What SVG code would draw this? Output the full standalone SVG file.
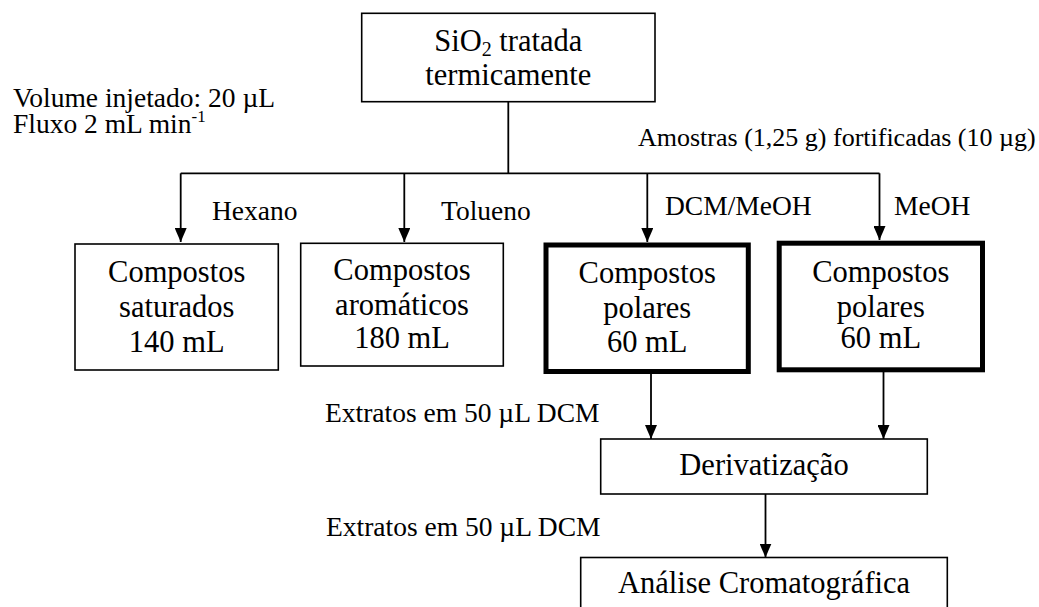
<svg xmlns="http://www.w3.org/2000/svg" width="1039" height="607" viewBox="0 0 1039 607">
  <style>
    text { font-family: "Liberation Serif", "Times New Roman", serif; fill: #000; }
    .box { fill: #fff; stroke: #000; stroke-width: 1.6; }
    .thick { fill: #fff; stroke: #000; stroke-width: 5; }
    .node { font-size: 30.5px; text-anchor: middle; }
    .note { font-size: 27.5px; }
    .line { fill: none; stroke: #000; stroke-width: 1.8; }
  </style>
  <defs>
    <!-- filled triangular head, tip at the end of the line -->
    <marker id="arrow" viewBox="0 0 14 12" refX="14" refY="6" markerWidth="14" markerHeight="12" markerUnits="userSpaceOnUse" orient="auto">
      <path d="M0,0 L14,6 L0,12 Z" fill="#000"/>
    </marker>
  </defs>

  <!-- free-standing annotations -->
  <g id="annotations">
    <text class="note" x="13" y="107">Volume injetado: 20 µL</text>
    <text class="note" x="13" y="133">Fluxo 2 mL min<tspan font-size="17" dy="-11">-1</tspan></text>
    <text class="note" x="638" y="146" font-size="26px" style="font-size:26px">Amostras (1,25 g) fortificadas (10 µg)</text>
    <text class="note" x="212" y="220">Hexano</text>
    <text class="note" x="441" y="220">Tolueno</text>
    <text class="note" x="665" y="215">DCM/MeOH</text>
    <text class="note" x="894" y="215">MeOH</text>
    <text class="note" x="325" y="422">Extratos em 50 µL DCM</text>
    <text class="note" x="326" y="536">Extratos em 50 µL DCM</text>
  </g>

  <!-- connectors -->
  <g id="connectors">
    <path class="line" d="M508.3,102 V173.3"/>
    <path class="line" d="M180.7,173.3 H879.5"/>
    <path class="line" d="M180.7,173.3 V242" marker-end="url(#arrow)"/>
    <path class="line" d="M404.3,173.3 V242" marker-end="url(#arrow)"/>
    <path class="line" d="M647.3,173.3 V242" marker-end="url(#arrow)"/>
    <path class="line" d="M879.5,173.3 V240" marker-end="url(#arrow)"/>
    <path class="line" d="M651,374 V439" marker-end="url(#arrow)"/>
    <path class="line" d="M883.5,372 V439" marker-end="url(#arrow)"/>
    <path class="line" d="M765.5,494 V557.5" marker-end="url(#arrow)"/>
  </g>

  <!-- nodes -->
  <g id="silica">
    <rect class="box" x="361.7" y="13.3" width="293.3" height="88.4"/>
    <text class="node" x="508.3" y="51">SiO<tspan font-size="20" dy="5">2</tspan><tspan dy="-5"> tratada</tspan></text>
    <text class="node" x="508.3" y="85">termicamente</text>
  </g>

  <g id="saturados">
    <rect class="box" x="75" y="244" width="203.3" height="126"/>
    <text class="node" x="176.7" y="281.7">Compostos</text>
    <text class="node" x="176.7" y="316.7">saturados</text>
    <text class="node" x="176.7" y="351.7">140 mL</text>
  </g>

  <g id="aromaticos">
    <rect class="box" x="300.7" y="243.3" width="202.6" height="122.7"/>
    <text class="node" x="402" y="280">Compostos</text>
    <text class="node" x="402" y="315">aromáticos</text>
    <text class="node" x="402" y="348.3">180 mL</text>
  </g>

  <g id="polares-dcm">
    <rect class="thick" x="546" y="245" width="202.3" height="126.5"/>
    <text class="node" x="647.2" y="283.3">Compostos</text>
    <text class="node" x="647.2" y="318.3">polares</text>
    <text class="node" x="647.2" y="351.7">60 mL</text>
  </g>

  <g id="polares-meoh">
    <rect class="thick" x="779.2" y="243.2" width="203.3" height="126.6"/>
    <text class="node" x="880.8" y="281.7">Compostos</text>
    <text class="node" x="880.8" y="316.7">polares</text>
    <text class="node" x="880.8" y="348.3">60 mL</text>
  </g>

  <g id="derivatizacao">
    <rect class="box" x="600.7" y="439" width="326.6" height="55"/>
    <text class="node" x="764" y="475">Derivatização</text>
  </g>

  <g id="analise">
    <rect class="box" x="580.7" y="557.5" width="366.6" height="60"/>
    <text class="node" x="764" y="593">Análise Cromatográfica</text>
  </g>
</svg>
